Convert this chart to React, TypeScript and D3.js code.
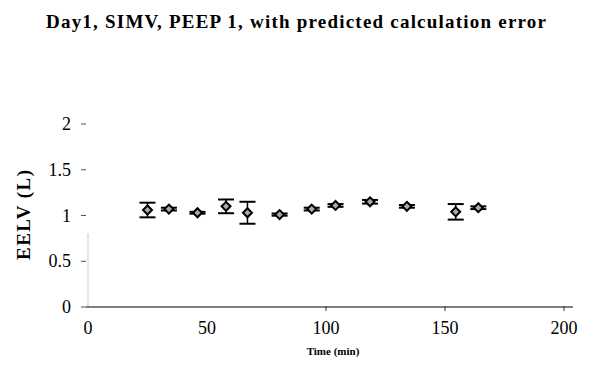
import React from "react";
import * as d3 from "d3";

const times = [25, 34, 46, 58, 67, 80.5, 94, 104, 118.5, 134, 154.5, 164];
const eelv = [1.06, 1.07, 1.03, 1.1, 1.03, 1.01, 1.07, 1.11, 1.15, 1.1, 1.04, 1.085];
const errs = [0.08, 0.015, 0.01, 0.075, 0.12, 0.012, 0.015, 0.015, 0.02, 0.015, 0.085, 0.015];
const xTicks = [0, 50, 100, 150, 200];
const yTicks = [0, 0.5, 1, 1.5, 2];

const W = 593;
const H = 384;

export default function App() {
  const x = d3.scaleLinear().domain([0, 200]).range([88, 564]);
  const y = d3.scaleLinear().domain([0, 2]).range([307, 124]);
  const font = "'Liberation Serif', 'Times New Roman', Times, 'DejaVu Serif', 'Noto Serif', serif";
  const diamond = d3.symbol().type(d3.symbolSquare).size(40)();
  const ts = { fontFamily: font };
  return (
    <svg
      width={W}
      height={H}
      style={{ position: "absolute", left: 0, top: 0, background: "#fff" }}
    >
      <rect x={0} y={0} width={W} height={H} fill="#fff" />
      <text x={296} y={28} textAnchor="middle" fontSize={19} fontWeight="bold" style={ts} textLength={500} lengthAdjust="spacing">
        Day1, SIMV, PEEP 1, with predicted calculation error
      </text>
      <line x1={88} x2={88} y1={y(0.8)} y2={y(0)} stroke="#999" strokeWidth={1} strokeDasharray="1,1" />
      <line x1={86} x2={573} y1={y(0)} y2={y(0)} stroke="#000" strokeWidth={1} />
      {xTicks.slice(2).map((t) => (
        <line key={"xt" + t} x1={x(t)} x2={x(t)} y1={y(0) - 1} y2={y(0) + 4} stroke="#333" strokeWidth={1} />
      ))}
      {xTicks.map((t) => (
        <text key={"xl" + t} x={x(t)} y={334} textAnchor="middle" fontSize={18} style={ts}>
          {t}
        </text>
      ))}
      {yTicks.map((t) => (
        <g key={"y" + t}>
          <line x1={81} x2={86} y1={y(t)} y2={y(t)} stroke="#555" strokeWidth={1} />
          <text x={71} y={y(t) + 6} textAnchor="end" fontSize={18} style={ts}>
            {t}
          </text>
        </g>
      ))}
      <text x={333} y={355} textAnchor="middle" fontSize={11} fontWeight="bold" style={ts}>
        Time (min)
      </text>
      <text
        transform={`translate(30,215) rotate(-90)`}
        textAnchor="middle"
        fontSize={19}
        fontWeight="bold"
        style={ts}
        textLength={90}
        lengthAdjust="spacing"
      >
        EELV (L)
      </text>
      {times.map((t, i) => {
        const cx = x(t);
        const cy = y(eelv[i]);
        const top = y(eelv[i] + errs[i]);
        const bot = y(eelv[i] - errs[i]);
        return (
          <g key={"p" + i}>
            <line x1={cx} x2={cx} y1={top} y2={bot} stroke="#000" strokeWidth={1.5} />
            <line x1={cx - 8} x2={cx + 8} y1={top} y2={top} stroke="#000" strokeWidth={2} />
            <line x1={cx - 8} x2={cx + 8} y1={bot} y2={bot} stroke="#000" strokeWidth={2} />
            <path d={diamond} transform={`translate(${cx},${cy}) rotate(45)`} fill="#aaa" stroke="#000" strokeWidth={2} />
          </g>
        );
      })}
    </svg>
  );
}
